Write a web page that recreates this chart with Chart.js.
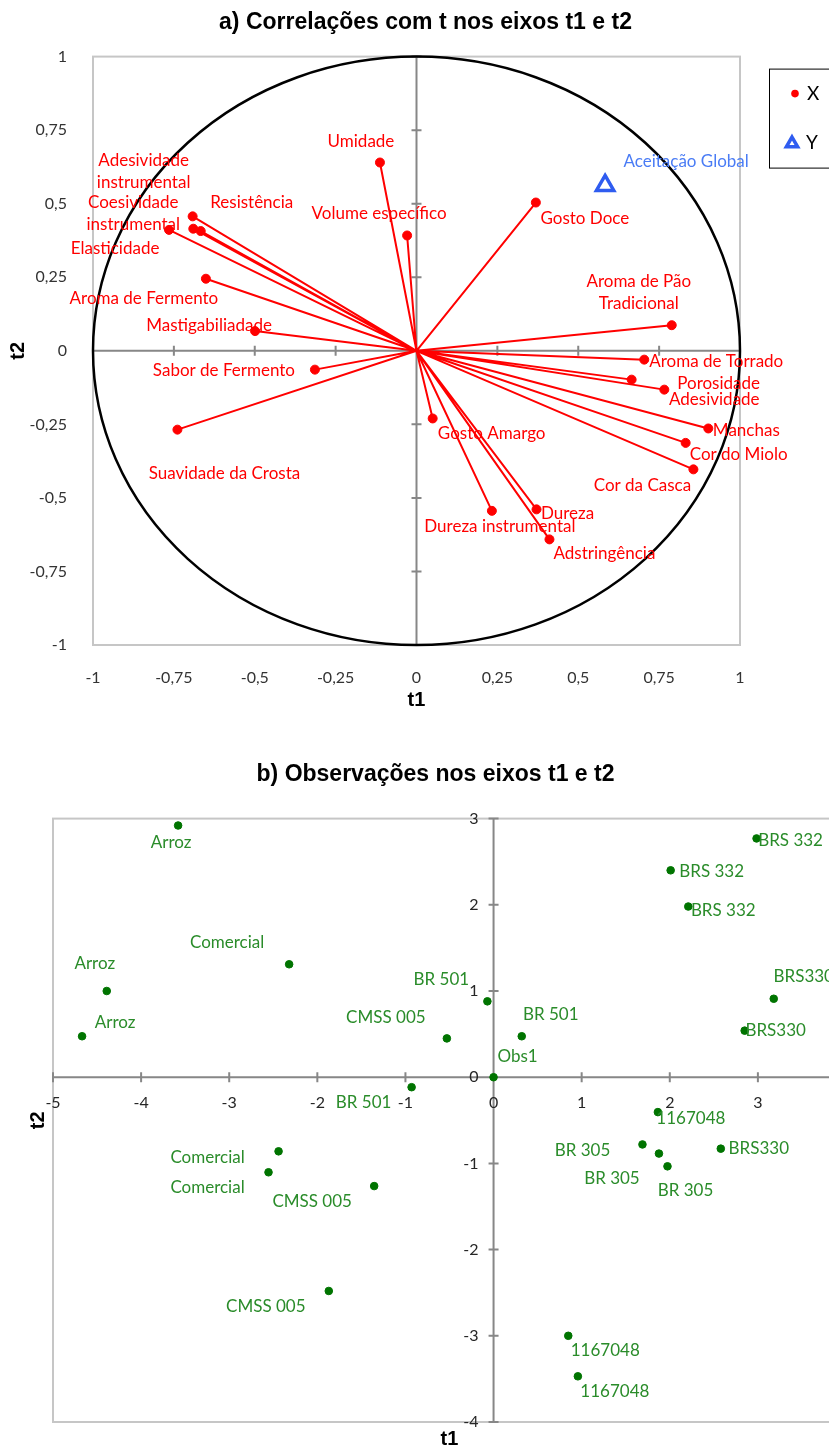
<!DOCTYPE html>
<html>
<head>
<meta charset="utf-8">
<script src="https://cdn.jsdelivr.net/npm/chart.js@4.4.0/dist/chart.umd.min.js"></script>
<style>
    html, body { margin: 0; padding: 0; background: #fff; overflow: hidden; }
    #wrap { position: relative; width: 829px; height: 1447px; overflow: hidden; }
    #boxA { position: absolute; left: 0; top: 0; }
    #boxB { position: absolute; left: 0; top: 740px; }
</style>
</head>
<body>
<div id="wrap">
    <div id="boxA"><canvas id="chartA" width="851" height="720"></canvas></div>
    <div id="boxB"><canvas id="chartB" width="871" height="720"></canvas></div>
</div>
<script>
// a) correlacoes das variaveis com t1 e t2
const varNames = ['Umidade', 'Volume específico', 'Gosto Doce', 'Adesividade\ninstrumental',
    'Coesividade\ninstrumental', 'Resistência', 'Elasticidade', 'Aroma de Fermento',
    'Mastigabiliadade', 'Sabor de Fermento', 'Suavidade da Crosta', 'Gosto Amargo',
    'Dureza instrumental', 'Dureza', 'Adstringência', 'Aroma de Torrado', 'Porosidade',
    'Adesividade', 'Manchas', 'Cor do Miolo', 'Cor da Casca', 'Aroma de Pão\nTradicional'];
const varT1 = [-0.113, -0.029, 0.369, -0.692, -0.690, -0.667, -0.765, -0.651, -0.499, -0.314, -0.739,
    0.050, 0.233, 0.371, 0.411, 0.704, 0.665, 0.766, 0.902, 0.832, 0.856, 0.789];
const varT2 = [0.640, 0.392, 0.504, 0.457, 0.415, 0.407, 0.411, 0.245, 0.067, -0.064, -0.268,
    -0.230, -0.544, -0.539, -0.641, -0.030, -0.098, -0.132, -0.264, -0.313, -0.403, 0.087];
// onde fica o texto de cada ponto (px, a partir do ponto)
const varLabelPos = [[-19, -21], [-28, -22], [49, 16], [-49, -45], [-60, -15], [51, -29], [-54, 19],
    [-62, 20], [-46, -6], [-91, 1], [47, 44], [59, 15], [8, 16], [31, 4], [55, 14], [72, 2], [87, 4],
    [50, 10], [38, 2], [53, 12], [-51, 16], [-33, -33]];

const supNames = ['Aceitação Global'];
const supT1 = [0.583];
const supT2 = [0.562];
const supLabelPos = [[81, -24]];

const corrTicks = [-1, -0.75, -0.5, -0.25, 0, 0.25, 0.5, 0.75, 1];

// b) observacoes
const obsNames = ['Arroz', 'Comercial', 'Arroz', 'Arroz', 'BR 501', 'CMSS 005', 'BR 501', 'Obs1',
    'BR 501', 'BRS 332', 'BRS 332', 'BRS 332', 'BRS330', 'BRS330', '1167048', 'Comercial',
    'Comercial', 'CMSS 005', 'CMSS 005', 'BR 305', 'BR 305', 'BR 305', 'BRS330', '1167048', '1167048'];
const obsT1 = [-3.58, -2.32, -4.39, -4.67, -0.07, -0.53, -0.93, 0, 0.32, 2.985, 2.01, 2.21, 3.18, 2.85,
    1.865, -2.44, -2.554, -1.355, -1.87, 1.69, 1.877, 1.974, 2.579, 0.848, 0.957];
const obsT2 = [2.92, 1.31, 1.00, 0.475, 0.88, 0.45, -0.116, 0, 0.475, 2.77, 2.40, 1.98, 0.91, 0.54,
    -0.405, -0.86, -1.103, -1.263, -2.48, -0.78, -0.886, -1.034, -0.829, -3.00, -3.47];
const obsLabelPos = [[-7, 17], [-62, -22], [-12, -27], [33, -14], [-46, -22], [-61, -21], [-48, 15],
    [24, -21], [29, -22], [34, 2], [41, 1], [35, 4], [30, -22], [31, 0], [33, 6], [-71, 6], [-61, 15],
    [-62, 15], [-63, 16], [-60, 6], [-47, 25], [18, 24], [38, 0], [37, 15], [37, 15]];

const fmt = v => String(v).replace('.', ',');
const labelFont = '17px Lato';
const titleFont = {family: 'Liberation Sans', size: 23, weight: 'bold'};
const axisTitleFont = {family: 'Liberation Sans', size: 20, weight: 'bold'};

function drawAxes(chart) {
    const {ctx, chartArea: a, scales: {x, y}} = chart;
    const x0 = x.getPixelForValue(0), y0 = y.getPixelForValue(0);
    ctx.save();
    ctx.strokeStyle = '#c6c6c6';
    ctx.lineWidth = 2;
    ctx.strokeRect(a.left, a.top, a.right - a.left, a.bottom - a.top);
    ctx.strokeStyle = '#878787';
    ctx.lineWidth = 2;
    ctx.beginPath();
    ctx.moveTo(a.left, y0); ctx.lineTo(a.right, y0);
    ctx.moveTo(x0, a.top); ctx.lineTo(x0, a.bottom);
    x.ticks.forEach(t => {
        const px = x.getPixelForValue(t.value);
        ctx.moveTo(px, y0 - 5); ctx.lineTo(px, y0 + 5);
    });
    y.ticks.forEach(t => {
        const py = y.getPixelForValue(t.value);
        ctx.moveTo(x0 - 5, py); ctx.lineTo(x0 + 5, py);
    });
    ctx.stroke();
    ctx.restore();
}

function drawText(ctx, text, cx, cy, lh) {
    const lines = text.split('\n');
    lines.forEach((ln, i) => ctx.fillText(ln, cx, cy + (i - (lines.length - 1) / 2) * lh));
}

// espaco vazio a direita (para o titulo ficar centrado no grafico inteiro)
const spacer = w => ({
    type: 'linear', position: 'right', min: 0, max: 1,
    ticks: {display: false}, grid: {display: false}, border: {display: false},
    afterFit: s => { s.width = w; }
});

const corrPlugin = {
    id: 'corrDecor',
    beforeDatasetsDraw(chart) {
        drawAxes(chart);
        const {ctx, scales: {x, y}} = chart;
        const x0 = x.getPixelForValue(0), y0 = y.getPixelForValue(0);
        ctx.save();
        ctx.strokeStyle = '#000';
        ctx.lineWidth = 2.5;
        ctx.beginPath();
        ctx.ellipse(x0, y0, x.getPixelForValue(1) - x0, y0 - y.getPixelForValue(1), 0, 0, Math.PI * 2);
        ctx.stroke();
        ctx.strokeStyle = '#ff0000';
        ctx.lineWidth = 2;
        ctx.beginPath();
        chart.getDatasetMeta(0).data.forEach(p => { ctx.moveTo(x0, y0); ctx.lineTo(p.x, p.y); });
        ctx.stroke();
        ctx.restore();
    },
    afterDatasetsDraw(chart) {
        const {ctx, chartArea: a} = chart;
        ctx.save();
        ctx.font = labelFont;
        ctx.textAlign = 'center';
        ctx.textBaseline = 'middle';
        ctx.fillStyle = '#ff0000';
        chart.getDatasetMeta(0).data.forEach((p, i) => {
            drawText(ctx, varNames[i], p.x + varLabelPos[i][0], p.y + varLabelPos[i][1], 22);
        });
        ctx.fillStyle = '#4a7cf5';
        chart.getDatasetMeta(1).data.forEach((p, i) => {
            drawText(ctx, supNames[i], p.x + supLabelPos[i][0], p.y + supLabelPos[i][1], 22);
        });
        // legenda
        const lx = a.right + 29, ly = a.top + 12;
        ctx.strokeStyle = '#000';
        ctx.lineWidth = 1;
        ctx.strokeRect(lx + 0.5, ly + 0.5, 140, 99);
        ctx.fillStyle = '#ff0000';
        ctx.beginPath(); ctx.arc(lx + 26, ly + 25, 3.8, 0, Math.PI * 2); ctx.fill();
        ctx.strokeStyle = '#2f5cf0';
        ctx.fillStyle = 'rgba(0,0,0,0)';
        ctx.lineWidth = 3.5;
        Chart.helpers.drawPoint(ctx, {pointStyle: 'triangle', radius: 6.5, borderWidth: 3.5}, lx + 23, ly + 75);
        ctx.fillStyle = '#000';
        ctx.font = '19px Lato';
        ctx.textAlign = 'left';
        ctx.fillText('X', lx + 38, ly + 25);
        ctx.fillText('Y', lx + 37, ly + 74);
        ctx.restore();
    }
};

const obsPlugin = {
    id: 'obsDecor',
    beforeDatasetsDraw(chart) {
        drawAxes(chart);
        const {ctx, scales: {x, y}} = chart;
        const x0 = x.getPixelForValue(0), y0 = y.getPixelForValue(0);
        ctx.save();
        ctx.font = '16px Lato';
        ctx.fillStyle = '#262626';
        ctx.textBaseline = 'middle';
        ctx.textAlign = 'center';
        x.ticks.forEach(t => ctx.fillText(t.label, x.getPixelForValue(t.value), y0 + 26));
        ctx.textAlign = 'right';
        y.ticks.forEach(t => ctx.fillText(t.label, x0 - 15, y.getPixelForValue(t.value)));
        ctx.restore();
    },
    afterDatasetsDraw(chart) {
        const {ctx} = chart;
        ctx.save();
        ctx.font = labelFont;
        ctx.textAlign = 'center';
        ctx.textBaseline = 'middle';
        ctx.fillStyle = '#2a8c2a';
        chart.getDatasetMeta(0).data.forEach((p, i) => {
            drawText(ctx, obsNames[i], p.x + obsLabelPos[i][0], p.y + obsLabelPos[i][1], 22);
        });
        ctx.restore();
    }
};

Chart.defaults.font.family = 'Lato';
Chart.defaults.color = '#333';

new Chart(document.getElementById('chartA'), {
    type: 'scatter',
    data: {
        datasets: [{
            label: 'X',
            data: varT1.map((v, i) => ({x: v, y: varT2[i]})),
            pointRadius: 4.5,
            pointHoverRadius: 4.5,
            backgroundColor: '#ff0000',
            borderColor: '#ff0000'
        }, {
            label: 'Y',
            data: supT1.map((v, i) => ({x: v, y: supT2[i]})),
            pointStyle: 'triangle',
            pointRadius: 10,
            borderWidth: 3.5,
            borderColor: '#2f5cf0',
            backgroundColor: 'rgba(0,0,0,0)'
        }]
    },
    options: {
        responsive: false,
        animation: false,
        plugins: {
            legend: {display: false},
            tooltip: {enabled: false},
            title: {
                display: true,
                text: 'a) Correlações com t nos eixos t1 e t2',
                font: titleFont,
                color: '#000',
                padding: {top: 9, bottom: 20}
            }
        },
        scales: {
            x: {
                type: 'linear', min: -1, max: 1,
                afterBuildTicks: s => { s.ticks = corrTicks.map(v => ({value: v})); },
                ticks: {callback: v => fmt(v), padding: 15, font: {size: 16}, color: '#333'},
                grid: {display: false},
                border: {display: false},
                title: {display: true, text: 't1', font: axisTitleFont, color: '#000', padding: {top: 0, bottom: 8}},
                afterFit: s => { s.height = 75; }
            },
            y: {
                type: 'linear', min: -1, max: 1,
                afterBuildTicks: s => { s.ticks = corrTicks.map(v => ({value: v})); },
                ticks: {callback: v => fmt(v), padding: 18, font: {size: 16}, color: '#333'},
                grid: {display: false},
                border: {display: false},
                title: {display: true, text: 't2', font: axisTitleFont, color: '#000', padding: {top: 6, bottom: 0}},
                afterFit: s => { s.width = 93; }
            },
            side: spacer(111)
        }
    },
    plugins: [corrPlugin]
});

new Chart(document.getElementById('chartB'), {
    type: 'scatter',
    data: {
        datasets: [{
            label: 'Obs',
            data: obsT1.map((v, i) => ({x: v, y: obsT2[i]})),
            pointRadius: 3.8,
            pointHoverRadius: 3.8,
            backgroundColor: '#007400',
            borderColor: '#007400'
        }]
    },
    options: {
        responsive: false,
        animation: false,
        plugins: {
            legend: {display: false},
            tooltip: {enabled: false},
            title: {
                display: true,
                text: 'b) Observações nos eixos t1 e t2',
                font: titleFont,
                color: '#000',
                padding: {top: 21, bottom: 30}
            }
        },
        scales: {
            x: {
                type: 'linear', min: -5, max: 4,
                ticks: {display: false, stepSize: 1},
                grid: {display: false},
                border: {display: false},
                title: {display: true, text: 't1', font: axisTitleFont, color: '#000', padding: {top: 0, bottom: 9}},
                afterFit: s => { s.height = 38; }
            },
            y: {
                type: 'linear', min: -4, max: 3,
                ticks: {display: false, stepSize: 1},
                grid: {display: false},
                border: {display: false},
                title: {display: true, text: 't2', font: axisTitleFont, color: '#000', padding: {top: 26, bottom: 0}},
                afterFit: s => { s.width = 53; }
            },
            side: spacer(25)
        }
    },
    plugins: [obsPlugin]
});
</script>
</body>
</html>
